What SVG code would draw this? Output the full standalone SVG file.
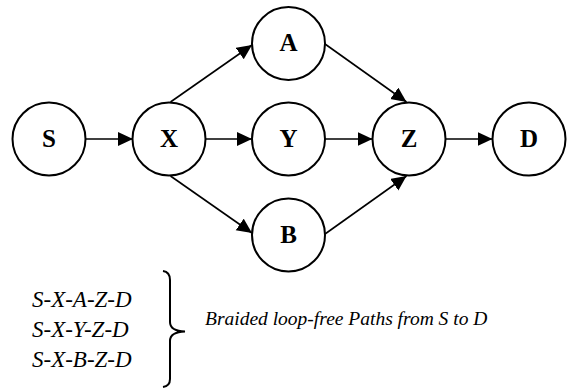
<svg xmlns="http://www.w3.org/2000/svg" width="569" height="388" viewBox="0 0 569 388">
<style>
.node circle{fill:#fff;stroke:#000;stroke-width:2}
.node text{font-family:'Liberation Serif','DejaVu Serif',serif;font-weight:bold;font-size:25px;text-anchor:middle;fill:#000}
.edge{stroke:#000;stroke-width:1.6;fill:none;marker-end:url(#ah)}
.it{font-family:'Liberation Serif','DejaVu Serif',serif;font-style:italic;fill:#000}
</style>
<defs>
<marker id="ah" markerUnits="userSpaceOnUse" markerWidth="16" markerHeight="15" refX="15" refY="7" orient="auto">
<path d="M0,0 L15,7 L0,14 z" fill="#000"/>
</marker>
</defs>
<rect width="569" height="388" fill="#fff"/>
<g id="connectors">
<line class="edge" x1="86" y1="139" x2="133" y2="139"/>
<line class="edge" x1="205" y1="139" x2="252" y2="139"/>
<line class="edge" x1="325" y1="139" x2="372.5" y2="139"/>
<line class="edge" x1="445.5" y1="139" x2="492.5" y2="139"/>
<line class="edge" x1="170.5" y1="102" x2="252" y2="45"/>
<line class="edge" x1="170.5" y1="176" x2="252" y2="233"/>
<line class="edge" x1="325" y1="44" x2="406.5" y2="102"/>
<line class="edge" x1="325" y1="234" x2="406.5" y2="176"/>
</g>
<g id="node-S" class="node"><circle cx="49" cy="139" r="36.5"/><text x="49" y="146.5">S</text></g>
<g id="node-X" class="node"><circle cx="169" cy="139" r="36.5"/><text x="169" y="146.5">X</text></g>
<g id="node-A" class="node"><circle cx="288.5" cy="43.5" r="36.5"/><text x="288.5" y="51">A</text></g>
<g id="node-Y" class="node"><circle cx="288.5" cy="139" r="36.5"/><text x="288.5" y="146.5">Y</text></g>
<g id="node-B" class="node"><circle cx="288.5" cy="235" r="36.5"/><text x="288.5" y="242.5">B</text></g>
<g id="node-Z" class="node"><circle cx="409" cy="139" r="36.5"/><text x="409" y="146.5">Z</text></g>
<g id="node-D" class="node"><circle cx="529" cy="139" r="36.5"/><text x="529" y="146.5">D</text></g>
<g id="paths">
<text class="it" x="32" y="306.5" font-size="23">S-X-A-Z-D</text>
<text class="it" x="32" y="337" font-size="23">S-X-Y-Z-D</text>
<text class="it" x="32" y="367" font-size="23">S-X-B-Z-D</text>
<path d="M163,271 Q170,272 170,280 L170,322 Q170,331 185,331.5 Q170,332 170,341 L170,379 Q170,386 163,387" fill="none" stroke="#000" stroke-width="2"/>
<text class="it" x="205" y="325" font-size="19.5">Braided loop-free Paths from S to D</text>
</g>
</svg>
